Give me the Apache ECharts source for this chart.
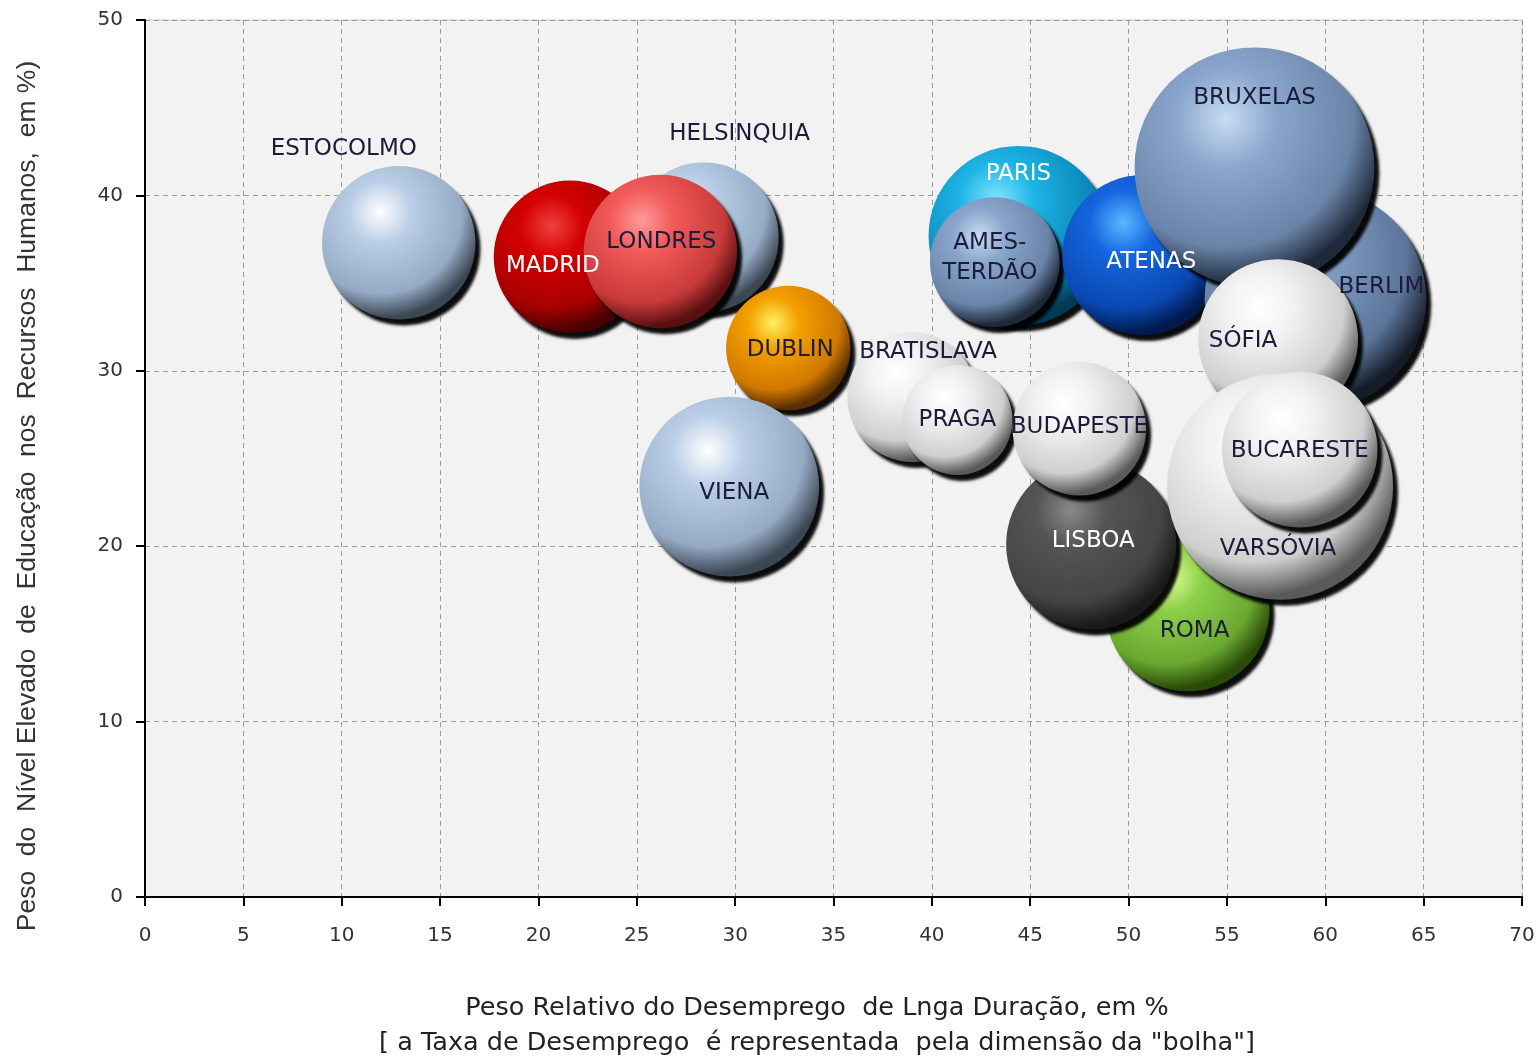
<!DOCTYPE html>
<html>
<head>
<meta charset="utf-8">
<script src="https://cdn.jsdelivr.net/npm/echarts@6/dist/echarts.min.js"></script>
<style>
html,body{margin:0;padding:0;background:#fff;}
#chart{width:1538px;height:1058px;}
</style>
</head>
<body>
<div id="chart"></div>
<script>
// ---- data ----
const cities = ["ESTOCOLMO","HELSINQUIA","MADRID","LONDRES","DUBLIN","VIENA","BRATISLAVA","PRAGA","PARIS","AMESTERDÃO","ATENAS","BERLIM","BRUXELAS","SÓFIA","ROMA","LISBOA","BUDAPESTE","VARSÓVIA","BUCARESTE"];
// Peso relativo do desemprego de longa duração (%)
const longTermUnemp = [12.9, 28.4, 21.6, 26.2, 32.7, 29.7, 39.0, 41.3, 44.4, 43.2, 50.7, 59.5, 56.4, 57.6, 53.0, 48.1, 47.5, 57.7, 58.7];
// Peso do nível elevado de educação nos RH (%)
const highEducation = [37.3, 37.6, 36.5, 36.8, 31.3, 23.4, 28.5, 27.2, 37.7, 36.2, 36.6, 34.1, 41.6, 31.8, 16.4, 20.1, 26.7, 23.4, 25.5];
// Taxa de desemprego (dimensão da bolha)
const unemploymentRate = [7.0, 6.7, 6.9, 7.0, 4.6, 9.6, 5.0, 3.6, 9.6, 5.0, 7.6, 14.6, 17.1, 7.6, 8.0, 8.6, 5.3, 15.2, 7.2];
const xTicks = {min: 0, max: 70, interval: 5};
const yTicks = {min: 0, max: 50, interval: 10};

// ---- styles ----
const DARK = '#1c1c3a';
const palette = {
  lightblue: ['#ffffff', '#b9cde6', '#95aac4', '#3c4754'],
  red: ['#f04040', '#d40000', '#a80000', '#4a0000'],
  pink: ['#ff9a9a', '#f25a5a', '#c83a3a', '#5a1010'],
  orange: ['#fff060', '#f4a000', '#d07800', '#5a3000'],
  white: ['#ffffff', '#f2f2f2', '#cfcfcf', '#5a5a5a'],
  cyan: ['#80e6ff', '#1fb4e6', '#0a86b8', '#023a55'],
  steel: ['#c8dcf4', '#8aa6cc', '#6a84a8', '#1e2a3a'],
  steelDark: ['#b0c8e8', '#7f9cc4', '#5c7599', '#141c28'],
  blue: ['#5ab8ff', '#1565e0', '#0a48b0', '#001a50'],
  gray: ['#8a8a8a', '#555555', '#444444', '#1a1a1a'],
  green: ['#e6ff9a', '#8cd04a', '#6aa830', '#2a4a08']
};
const cityStyle = {
  "ESTOCOLMO": {c: 'lightblue', off: [-55, -94], col: DARK},
  "HELSINQUIA": {c: 'lightblue', off: [36, -103], col: DARK},
  "MADRID": {c: 'red', off: [-17, 9], col: '#ffffff'},
  "LONDRES": {c: 'pink', off: [1, -9], col: DARK},
  "DUBLIN": {c: 'orange', off: [2, 2], col: DARK},
  "VIENA": {c: 'lightblue', off: [5, 6], col: DARK},
  "BRATISLAVA": {c: 'white', off: [16, -45], col: DARK},
  "PRAGA": {c: 'white', off: [0, 0], col: DARK},
  "PARIS": {c: 'cyan', off: [0, -62], col: '#ffffff'},
  "AMESTERDÃO": {c: 'steel', off: [-5, -4], col: DARK, text: 'AMES-\nTERDÃO'},
  "ATENAS": {c: 'blue', off: [9, 7], col: '#ffffff'},
  "BERLIM": {c: 'steelDark', off: [66, -12], col: DARK},
  "BRUXELAS": {c: 'steel', off: [0, -69], col: DARK},
  "SÓFIA": {c: 'white', off: [-35, 2], col: DARK},
  "ROMA": {c: 'green', off: [7, 22], col: DARK},
  "LISBOA": {c: 'gray', off: [2, -3], col: '#ffffff'},
  "BUDAPESTE": {c: 'white', off: [0, -2], col: DARK},
  "VARSÓVIA": {c: 'white', off: [-2, 62], col: DARK},
  "BUCARESTE": {c: 'white', off: [0, 1], col: DARK}
};
const SIZE_K = 58;

function ball(p) {
  return new echarts.graphic.RadialGradient(0.38, 0.3, 0.74, [
    {offset: 0, color: p[0]},
    {offset: 0.28, color: p[1]},
    {offset: 0.72, color: p[2]},
    {offset: 0.93, color: p[3]},
    {offset: 1, color: p[3]}
  ]);
}

const data = cities.map((name, i) => {
  const s = cityStyle[name];
  return {
    name: name,
    value: [longTermUnemp[i], highEducation[i], unemploymentRate[i]],
    itemStyle: {color: ball(palette[s.c])},
    label: {offset: s.off, color: s.col, formatter: s.text || name}
  };
});

const chart = echarts.init(document.getElementById('chart'), null, {renderer: 'canvas'});
const FONT = 'DejaVu Sans';
chart.setOption({
  animation: false,
  backgroundColor: '#ffffff',
  grid: {left: 145, right: 16, top: 20, bottom: 161, show: true, backgroundColor: '#f2f2f2', borderColor: '#c8c8c8', borderWidth: 1},
  xAxis: {
    type: 'value', min: xTicks.min, max: xTicks.max, interval: xTicks.interval,
    axisLine: {show: true, onZero: false, lineStyle: {color: '#000', width: 2}},
    axisTick: {show: true, length: 9, lineStyle: {color: '#000', width: 2}},
    axisLabel: {color: '#333', fontFamily: FONT, fontSize: 20, margin: 29},
    splitLine: {show: true, lineStyle: {color: '#9a9a9a', type: [5, 4], width: 1}}
  },
  yAxis: {
    type: 'value', min: yTicks.min, max: yTicks.max, interval: yTicks.interval,
    axisLine: {show: true, onZero: false, lineStyle: {color: '#000', width: 2}},
    axisTick: {show: true, length: 9, lineStyle: {color: '#000', width: 2}},
    axisLabel: {color: '#333', fontFamily: FONT, fontSize: 20, margin: 22},
    splitLine: {show: true, lineStyle: {color: '#9a9a9a', type: [5, 4], width: 1}}
  },
  graphic: [
    {type: 'text', x: 28, y: 496, rotation: Math.PI / 2,
     style: {text: 'Peso  do  Nível Elevado  de  Educação  nos  Recursos  Humanos,  em %)', font: '26.5px "Liberation Sans"', fill: '#333', textAlign: 'center', textVerticalAlign: 'middle'}},
    {type: 'text', x: 817, y: 1008,
     style: {text: 'Peso Relativo do Desemprego  de Lnga Duração, em %', font: '25.5px "DejaVu Sans"', fill: '#222', textAlign: 'center', textVerticalAlign: 'middle'}},
    {type: 'text', x: 817, y: 1043,
     style: {text: '[ a Taxa de Desemprego  é representada  pela dimensão da "bolha"]', font: '25.5px "DejaVu Sans"', fill: '#222', textAlign: 'center', textVerticalAlign: 'middle'}}
  ],
  series: [{
    type: 'scatter',
    data: data,
    symbol: 'circle',
    symbolSize: function (v) { return Math.sqrt(v[2]) * SIZE_K; },
    itemStyle: {shadowColor: 'rgba(0,0,0,0.95)', shadowBlur: 3, shadowOffsetX: 5, shadowOffsetY: 6, opacity: 1},
    label: {show: true, position: 'inside', fontFamily: FONT, fontSize: 23, lineHeight: 30},
    emphasis: {disabled: true}
  }]
});
</script>
</body>
</html>
